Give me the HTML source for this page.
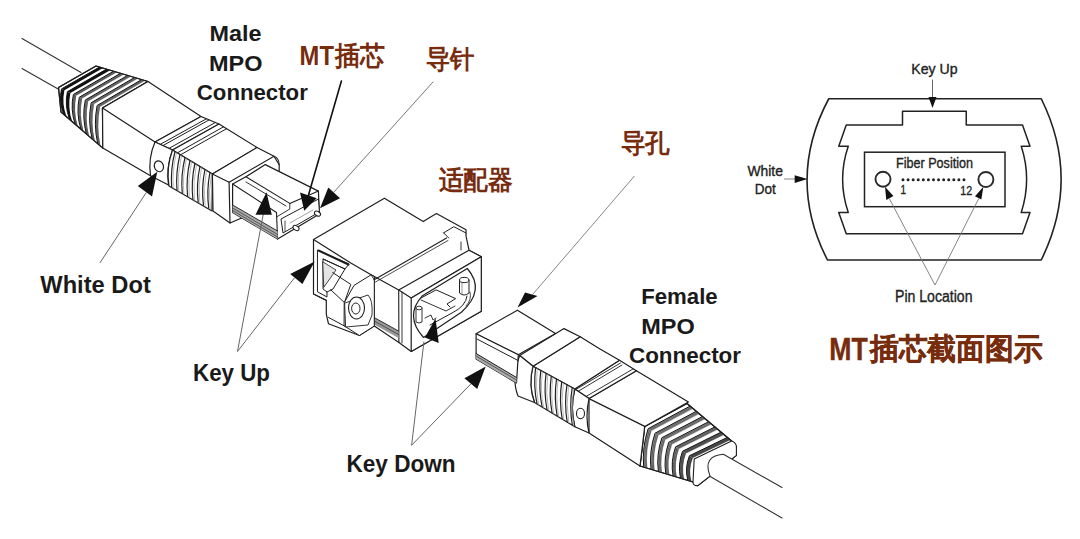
<!DOCTYPE html>
<html><head><meta charset="utf-8">
<style>
html,body{margin:0;padding:0;background:#fff;}
body{width:1080px;height:539px;overflow:hidden;position:relative;}
svg{position:absolute;left:0;top:0;}
.lb{font-family:"Liberation Sans",sans-serif;font-weight:bold;fill:#1a1a1a;}
.cn{font-family:"Liberation Sans",sans-serif;font-weight:bold;fill:#782c0e;}
.cnb{font-family:"Liberation Sans",sans-serif;font-weight:bold;fill:#782c0e;stroke:#782c0e;stroke-width:0.4;}
.sm{font-family:"Liberation Sans",sans-serif;fill:#222;stroke:#222;stroke-width:0.35;}
</style></head><body>
<svg width="1080" height="539" viewBox="0 0 1080 539">
<polyline points="22.0,38.4 81.0,72.5" fill="none" stroke="#333" stroke-width="1.1" stroke-linejoin="round" stroke-linecap="round"/>
<polyline points="22.0,68.6 59.0,89.5" fill="none" stroke="#333" stroke-width="1.1" stroke-linejoin="round" stroke-linecap="round"/>
<polygon points="96.0,66.0 148.0,81.5 102.5,108.0 102.8,148.1 61.0,112.0 58.5,87.5" fill="#fff" stroke="#1e1e1e" stroke-width="1.2" stroke-linejoin="round" />
<polygon points="61.5,88.9 99.5,67.0 103.0,68.1 64.4,90.3" fill="#111"/>
<path d="M61.5,88.9 L99.5,67.0" stroke="#111" stroke-width="1.0"/>
<path d="M61.5,88.9 Q58.6,101.7 63.8,114.4 L66.6,116.9 Q61.5,103.6 64.4,90.3 Z" fill="#111"/>
<path d="M61.5,88.9 Q58.6,101.7 63.8,114.4" fill="none" stroke="#111" stroke-width="1.0"/>
<polygon points="67.4,91.7 106.5,69.1 110.1,70.2 70.4,93.0" fill="#111"/>
<path d="M67.4,91.7 L106.5,69.1" stroke="#111" stroke-width="1.0"/>
<path d="M67.4,91.7 Q64.4,105.5 69.5,119.3 L72.3,121.8 Q67.3,107.4 70.4,93.0 Z" fill="#111"/>
<path d="M67.4,91.7 Q64.4,105.5 69.5,119.3" fill="none" stroke="#111" stroke-width="1.0"/>
<polygon points="73.4,94.4 113.6,71.2 117.1,72.3 76.3,95.8" fill="#888"/>
<path d="M74.3,94.9 L114.7,71.6" stroke="#333" stroke-width="0.6"/>
<path d="M75.3,95.3 L115.9,71.9" stroke="#333" stroke-width="0.6"/>
<path d="M73.4,94.4 L113.6,71.2" stroke="#111" stroke-width="1.0"/>
<path d="M73.4,94.4 Q70.2,109.3 75.1,124.2 L77.9,126.6 Q73.1,111.2 76.3,95.8 Z" fill="#888"/>
<path d="M74.6,95.0 Q71.4,110.1 76.3,125.2" fill="none" stroke="#333" stroke-width="0.6"/>
<path d="M75.6,95.5 Q72.4,110.7 77.2,126.0" fill="none" stroke="#333" stroke-width="0.6"/>
<path d="M73.4,94.4 Q70.2,109.3 75.1,124.2" fill="none" stroke="#111" stroke-width="1.0"/>
<polygon points="79.3,97.2 120.6,73.3 124.1,74.4 82.3,98.6" fill="#999"/>
<path d="M80.3,97.7 L121.8,73.7" stroke="#333" stroke-width="0.6"/>
<path d="M81.3,98.1 L122.9,74.0" stroke="#333" stroke-width="0.6"/>
<path d="M79.3,97.2 L120.6,73.3" stroke="#111" stroke-width="1.0"/>
<path d="M79.3,97.2 Q76.0,113.1 80.8,129.1 L83.6,131.5 Q78.9,115.0 82.3,98.6 Z" fill="#999"/>
<path d="M80.5,97.8 Q77.2,113.9 81.9,130.0" fill="none" stroke="#333" stroke-width="0.6"/>
<path d="M81.5,98.2 Q78.2,114.6 82.9,130.9" fill="none" stroke="#333" stroke-width="0.6"/>
<path d="M79.3,97.2 Q76.0,113.1 80.8,129.1" fill="none" stroke="#111" stroke-width="1.0"/>
<polygon points="85.3,100.0 127.6,75.4 131.1,76.5 88.2,101.4" fill="#999"/>
<path d="M86.2,100.4 L128.8,75.8" stroke="#333" stroke-width="0.6"/>
<path d="M87.2,100.9 L129.9,76.1" stroke="#333" stroke-width="0.6"/>
<path d="M85.3,100.0 L127.6,75.4" stroke="#111" stroke-width="1.0"/>
<path d="M85.3,100.0 Q81.8,117.0 86.4,134.0 L89.2,136.4 Q84.7,118.9 88.2,101.4 Z" fill="#999"/>
<path d="M86.4,100.5 Q83.0,117.7 87.5,134.9" fill="none" stroke="#333" stroke-width="0.6"/>
<path d="M87.5,101.0 Q84.0,118.4 88.5,135.8" fill="none" stroke="#333" stroke-width="0.6"/>
<path d="M85.3,100.0 Q81.8,117.0 86.4,134.0" fill="none" stroke="#111" stroke-width="1.0"/>
<polygon points="91.2,102.7 134.6,77.5 138.2,78.6 94.2,104.1" fill="#999"/>
<path d="M92.2,103.2 L135.8,77.9" stroke="#333" stroke-width="0.6"/>
<path d="M93.2,103.7 L137.0,78.2" stroke="#333" stroke-width="0.6"/>
<path d="M91.2,102.7 L134.6,77.5" stroke="#111" stroke-width="1.0"/>
<path d="M91.2,102.7 Q87.6,120.8 92.1,138.8 L94.9,141.3 Q90.5,122.7 94.2,104.1 Z" fill="#999"/>
<path d="M92.4,103.3 Q88.8,121.5 93.2,139.8" fill="none" stroke="#333" stroke-width="0.6"/>
<path d="M93.4,103.8 Q89.8,122.2 94.2,140.7" fill="none" stroke="#333" stroke-width="0.6"/>
<path d="M91.2,102.7 Q87.6,120.8 92.1,138.8" fill="none" stroke="#111" stroke-width="1.0"/>
<polygon points="97.1,105.5 141.7,79.6 145.2,80.7 100.1,106.9" fill="#999"/>
<path d="M98.1,106.0 L142.8,80.0" stroke="#333" stroke-width="0.6"/>
<path d="M99.1,106.4 L144.0,80.3" stroke="#333" stroke-width="0.6"/>
<path d="M97.1,105.5 L141.7,79.6" stroke="#111" stroke-width="1.0"/>
<path d="M97.1,105.5 Q93.4,124.6 97.7,143.7 L100.5,146.1 Q96.3,126.5 100.1,106.9 Z" fill="#999"/>
<path d="M98.3,106.1 Q94.6,125.4 98.8,144.7" fill="none" stroke="#333" stroke-width="0.6"/>
<path d="M99.4,106.5 Q95.6,126.0 99.8,145.5" fill="none" stroke="#333" stroke-width="0.6"/>
<path d="M97.1,105.5 Q93.4,124.6 97.7,143.7" fill="none" stroke="#111" stroke-width="1.0"/>
<polygon points="96.0,66.0 148.0,81.5 102.5,108.0 102.8,148.1 61.0,112.0 58.5,87.5" fill="none" stroke="#1e1e1e" stroke-width="1.2" stroke-linejoin="round" />
<polygon points="148.0,81.5 201.0,116.5 155.0,142.0 150.5,175.8 102.8,148.1 102.5,108.0" fill="#fff" stroke="#1e1e1e" stroke-width="1.2" stroke-linejoin="round" />
<polyline points="102.5,108.0 155.0,142.0" fill="none" stroke="#1e1e1e" stroke-width="1.2" stroke-linejoin="round" stroke-linecap="round"/>
<polygon points="155.0,142.0 201.0,116.5 219.0,124.0 172.5,150.0" fill="#fff" stroke="#1e1e1e" stroke-width="1.2" stroke-linejoin="round" />
<polyline points="160.2,144.4 206.4,118.8" fill="none" stroke="#1e1e1e" stroke-width="1.0" stroke-linejoin="round" stroke-linecap="round"/>
<polyline points="162.9,145.6 209.1,119.9" fill="none" stroke="#1e1e1e" stroke-width="1.0" stroke-linejoin="round" stroke-linecap="round"/>
<polyline points="169.0,148.4 215.4,122.5" fill="none" stroke="#1e1e1e" stroke-width="1.0" stroke-linejoin="round" stroke-linecap="round"/>
<path d="M155,142 Q148,158 150.5,175.8 L168.5,185 Q166,168 172.5,150 Z" fill="#fff" stroke="#1e1e1e" stroke-width="1.2" stroke-linejoin="round" stroke-linecap="round"/>
<ellipse cx="158.8" cy="166.3" rx="4.5" ry="5.5" fill="#fff" stroke="#1e1e1e" stroke-width="1.2" transform="rotate(-20 159 166)"/>
<polygon points="172.5,150.0 219.0,124.0 257.0,147.5 212.4,174.0" fill="#fff" stroke="#1e1e1e" stroke-width="1.2" stroke-linejoin="round" />
<polyline points="177.3,152.9 223.6,126.8" fill="none" stroke="#1e1e1e" stroke-width="1.0" stroke-linejoin="round" stroke-linecap="round"/>
<polyline points="180.5,154.8 226.6,128.7" fill="none" stroke="#1e1e1e" stroke-width="1.0" stroke-linejoin="round" stroke-linecap="round"/>
<path d="M172.5,150 Q166,168 169,186 L212,211 L212.4,174 Z" fill="#fff" stroke="#1e1e1e" stroke-width="1.2" stroke-linejoin="round" stroke-linecap="round"/>
<path d="M175.0,151.5 Q170.3,169.5 171.7,187.5" fill="none" stroke="#222" stroke-width="1.2"/>
<path d="M176.6,152.4 Q171.9,170.4 173.3,188.4" fill="none" stroke="#999" stroke-width="0.7"/>
<path d="M180.0,154.5 Q175.5,172.5 177.0,190.5" fill="none" stroke="#222" stroke-width="1.2"/>
<path d="M181.6,155.4 Q177.1,173.4 178.6,191.4" fill="none" stroke="#999" stroke-width="0.7"/>
<path d="M185.0,157.5 Q180.6,175.5 182.3,193.5" fill="none" stroke="#222" stroke-width="1.2"/>
<path d="M186.6,158.4 Q182.2,176.4 183.9,194.4" fill="none" stroke="#999" stroke-width="0.7"/>
<path d="M190.0,160.5 Q185.8,178.5 187.6,196.5" fill="none" stroke="#222" stroke-width="1.2"/>
<path d="M191.6,161.4 Q187.4,179.4 189.2,197.4" fill="none" stroke="#999" stroke-width="0.7"/>
<path d="M194.9,163.5 Q190.9,181.5 192.9,199.5" fill="none" stroke="#222" stroke-width="1.2"/>
<path d="M196.5,164.4 Q192.5,182.4 194.5,200.4" fill="none" stroke="#999" stroke-width="0.7"/>
<path d="M199.9,166.5 Q196.1,184.5 198.2,202.5" fill="none" stroke="#222" stroke-width="1.2"/>
<path d="M201.5,167.4 Q197.7,185.4 199.8,203.4" fill="none" stroke="#999" stroke-width="0.7"/>
<path d="M204.9,169.5 Q201.2,187.5 203.5,205.5" fill="none" stroke="#222" stroke-width="1.2"/>
<path d="M206.5,170.4 Q202.8,188.4 205.1,206.4" fill="none" stroke="#999" stroke-width="0.7"/>
<path d="M209.9,172.5 Q206.4,190.5 208.8,208.5" fill="none" stroke="#222" stroke-width="1.2"/>
<path d="M211.5,173.4 Q208.0,191.4 210.4,209.4" fill="none" stroke="#999" stroke-width="0.7"/>
<polygon points="212.4,174.0 257.0,147.5 274.0,156.3 279.2,164.7 279.0,202.0 230.0,223.0 213.0,211.0" fill="#fff" stroke="#1e1e1e" stroke-width="1.2" stroke-linejoin="round" />
<polyline points="212.4,174.0 229.1,182.3 230.0,223.0" fill="none" stroke="#1e1e1e" stroke-width="1.2" stroke-linejoin="round" stroke-linecap="round"/>
<path d="M229.1,182.3 L274,156.3 Q279,158 279.2,164.7" fill="none" stroke="#1e1e1e" stroke-width="1.1" stroke-linejoin="round" stroke-linecap="round"/>
<polygon points="232.6,184.0 245.9,176.8 265.3,164.6 318.4,191.1 319.4,214.0 277.6,239.0 232.6,212.6" fill="#fff" stroke="#1e1e1e" stroke-width="1.2" stroke-linejoin="round" />
<polyline points="245.9,176.8 289.8,203.4 318.4,191.1" fill="none" stroke="#1e1e1e" stroke-width="1.1" stroke-linejoin="round" stroke-linecap="round"/>
<polyline points="232.6,184.0 276.5,212.5 277.6,239.0" fill="none" stroke="#1e1e1e" stroke-width="1.1" stroke-linejoin="round" stroke-linecap="round"/>
<polyline points="246.0,182.0 286.0,206.0" fill="none" stroke="#1e1e1e" stroke-width="0.9" stroke-linejoin="round" stroke-linecap="round"/>
<polyline points="289.8,203.4 289.8,209.0 276.5,217.0" fill="none" stroke="#1e1e1e" stroke-width="0.9" stroke-linejoin="round" stroke-linecap="round"/>
<polygon points="232.6,205 277.6,231 277.6,239 232.6,212.6" fill="#aaa"/>
<polyline points="232.6,205.0 277.6,231.0" fill="none" stroke="#1e1e1e" stroke-width="0.9" stroke-linejoin="round" stroke-linecap="round"/>
<polyline points="232.6,208.0 277.6,234.5" fill="none" stroke="#1e1e1e" stroke-width="0.6" stroke-linejoin="round" stroke-linecap="round"/>
<polyline points="232.6,210.5 277.6,237.0" fill="none" stroke="#1e1e1e" stroke-width="0.6" stroke-linejoin="round" stroke-linecap="round"/>
<polygon points="281.0,219.0 318.5,199.0 319.4,212.0 283.0,233.0" fill="#fff" stroke="#1e1e1e" stroke-width="1.0" stroke-linejoin="round" />
<polyline points="285.0,221.0 285.0,231.0" fill="none" stroke="#1e1e1e" stroke-width="0.8" stroke-linejoin="round" stroke-linecap="round"/>
<polyline points="290.0,223.0 313.0,210.0" fill="none" stroke="#666" stroke-width="0.6" stroke-linejoin="round" stroke-linecap="round"/>
<ellipse cx="296" cy="228" rx="3.3" ry="2.2" fill="#fff" stroke="#1e1e1e" stroke-width="1" transform="rotate(30 296 228)"/>
<ellipse cx="317.5" cy="213.6" rx="3.3" ry="2.2" fill="#fff" stroke="#1e1e1e" stroke-width="1" transform="rotate(30 317.5 213.6)"/>
<polygon points="313.5,239.6 384.4,198.2 423.2,221.6 436.4,213.5 466.0,229.8 466.0,236.0 469.0,250.2 481.3,256.7 481.3,311.3 411.2,351.4 398.9,342.4 374.3,326.0 359.4,335.5 328.5,323.8 326.3,314.2 326.3,300.4 313.5,294.0" fill="#fff" stroke="#1e1e1e" stroke-width="1.2" stroke-linejoin="round" />
<polyline points="313.5,239.6 350.8,263.0 371.1,274.8 374.3,276.5 374.3,326.0" fill="none" stroke="#1e1e1e" stroke-width="1.2" stroke-linejoin="round" stroke-linecap="round"/>
<path d="M317.8,250.3 L349,264 L345,269 L323,259 L323,289 L327,292 L327,297 L317.8,292 Z" fill="#fff" stroke="#1e1e1e" stroke-width="1.0" stroke-linejoin="round" stroke-linecap="round"/>
<polyline points="318.5,250.5 348.5,264.5" fill="none" stroke="#1e1e1e" stroke-width="2.0" stroke-linejoin="round" stroke-linecap="round"/>
<path d="M323,259 L345,269 L333,289 L327,292" fill="none" stroke="#1e1e1e" stroke-width="1.0" stroke-linejoin="round" stroke-linecap="round"/>
<path d="M323,262 L336,270 L324,287 Z" fill="#e4e4e4" stroke="#1e1e1e" stroke-width="0.8" stroke-linejoin="round" stroke-linecap="round"/>
<path d="M332.7,272.6 L350.8,284.4 L344.4,302.5 L330.6,289.7" fill="none" stroke="#1e1e1e" stroke-width="1.0" stroke-linejoin="round" stroke-linecap="round"/>
<path d="M344.4,302.5 L354,285.4 L371.1,274.8 L374.3,276.5 L374.3,326 L359.4,335.5 L344.4,326 Z" fill="#fff" stroke="#1e1e1e" stroke-width="1.0" stroke-linejoin="round" stroke-linecap="round"/>
<path d="M345,303 L368,295 Q373,300 372,315 L368,325 L346,327 Z" fill="#fff" stroke="#1e1e1e" stroke-width="0.9" stroke-linejoin="round" stroke-linecap="round"/>
<ellipse cx="356.5" cy="308" rx="8" ry="11" fill="#fff" stroke="#1e1e1e" stroke-width="1.1"/>
<ellipse cx="355.8" cy="308.5" rx="4.2" ry="5.5" fill="#fff" stroke="#1e1e1e" stroke-width="1"/>
<polyline points="313.5,294.0 326.3,300.4" fill="none" stroke="#1e1e1e" stroke-width="1.0" stroke-linejoin="round" stroke-linecap="round"/>
<polyline points="328.5,317.4 344.4,326.0" fill="none" stroke="#1e1e1e" stroke-width="1.0" stroke-linejoin="round" stroke-linecap="round"/>
<polyline points="374.3,276.5 398.7,290.0 398.9,342.4" fill="none" stroke="#1e1e1e" stroke-width="1.1" stroke-linejoin="round" stroke-linecap="round"/>
<polygon points="375,318 398.5,331 398.5,338 375,325" fill="#999"/>
<polyline points="375.0,318.0 398.5,331.0" fill="none" stroke="#1e1e1e" stroke-width="0.9" stroke-linejoin="round" stroke-linecap="round"/>
<polyline points="375.0,321.5 398.5,334.5" fill="none" stroke="#1e1e1e" stroke-width="0.6" stroke-linejoin="round" stroke-linecap="round"/>
<polyline points="374.2,279.8 446.6,238.0" fill="none" stroke="#1e1e1e" stroke-width="1.1" stroke-linejoin="round" stroke-linecap="round"/>
<polyline points="375.5,282.0 448.0,240.5" fill="none" stroke="#1e1e1e" stroke-width="0.8" stroke-linejoin="round" stroke-linecap="round"/>
<polyline points="371.1,274.8 374.2,279.8" fill="none" stroke="#1e1e1e" stroke-width="0.9" stroke-linejoin="round" stroke-linecap="round"/>
<polyline points="443.6,232.9 453.8,226.7 466.0,233.0" fill="none" stroke="#1e1e1e" stroke-width="1.0" stroke-linejoin="round" stroke-linecap="round"/>
<polyline points="443.6,232.9 448.7,238.0" fill="none" stroke="#1e1e1e" stroke-width="1.0" stroke-linejoin="round" stroke-linecap="round"/>
<polyline points="461.0,242.0 461.0,250.0" fill="none" stroke="#1e1e1e" stroke-width="0.9" stroke-linejoin="round" stroke-linecap="round"/>
<polygon points="398.7,290.0 469.0,250.2 481.3,256.7 411.2,297.9" fill="#fff" stroke="#1e1e1e" stroke-width="1.2" stroke-linejoin="round" />
<polygon points="411.2,297.9 481.3,256.7 481.3,311.3 411.2,351.4" fill="#fff" stroke="#1e1e1e" stroke-width="1.2" stroke-linejoin="round" />
<polyline points="402.0,292.0 402.0,343.0" fill="none" stroke="#1e1e1e" stroke-width="0.9" stroke-linejoin="round" stroke-linecap="round"/>
<path d="M422.5,295.7 L467.3,268.5 Q486,290 461.4,312.3 L423.5,337.5 Q404,316 422.5,295.7 Z" fill="#fff" stroke="#1e1e1e" stroke-width="1.2" stroke-linejoin="round" stroke-linecap="round"/>
<path d="M421,298 L436.1,289.9 L455.6,298.6 L447,304 L450,307" fill="none" stroke="#1e1e1e" stroke-width="1.0" stroke-linejoin="round" stroke-linecap="round"/>
<path d="M421,300 L446,311 L455,306" fill="none" stroke="#1e1e1e" stroke-width="0.9" stroke-linejoin="round" stroke-linecap="round"/>
<path d="M467,296 Q466,306 452,313 L430,325" fill="none" stroke="#1e1e1e" stroke-width="1.0" stroke-linejoin="round" stroke-linecap="round"/>
<path d="M470,292 Q472,300 466,306" fill="none" stroke="#1e1e1e" stroke-width="0.8" stroke-linejoin="round" stroke-linecap="round"/>
<path d="M459.5,280 L459.5,293 Q464,297 469,293 L469,280" fill="#fff" stroke="#1e1e1e" stroke-width="1.0" stroke-linejoin="round" stroke-linecap="round"/>
<ellipse cx="464.2" cy="280" rx="4.7" ry="2.6" fill="#fff" stroke="#1e1e1e" stroke-width="1"/>
<polyline points="462.0,283.0 462.0,294.0" fill="none" stroke="#555" stroke-width="0.6" stroke-linejoin="round" stroke-linecap="round"/>
<path d="M416,308 L416,322 Q419,324 422,322 L422,308" fill="#fff" stroke="#1e1e1e" stroke-width="0.9" stroke-linejoin="round" stroke-linecap="round"/>
<ellipse cx="419" cy="308" rx="3" ry="1.8" fill="#fff" stroke="#1e1e1e" stroke-width="0.9"/>
<path d="M425,318 L431,315 L433,320 L436,318" fill="none" stroke="#1e1e1e" stroke-width="0.9" stroke-linejoin="round" stroke-linecap="round"/>
<polygon points="687.0,403.5 731.6,441.0 736.4,448.1 736.4,455.4 697.8,485.6 693.0,482.0 640.0,466.0 644.7,426.4" fill="#fff" stroke="#1e1e1e" stroke-width="1.2" stroke-linejoin="round" />
<polygon points="648.1,428.7 690.1,406.1 693.2,408.7 651.6,430.9" fill="#999"/>
<path d="M649.3,429.4 L691.1,407.0" stroke="#333" stroke-width="0.6"/>
<path d="M650.4,430.2 L692.1,407.8" stroke="#333" stroke-width="0.6"/>
<path d="M648.1,428.7 L690.1,406.1" stroke="#111" stroke-width="1.0"/>
<path d="M648.1,428.7 Q641.9,447.9 643.7,467.1 L647.4,468.2 Q645.5,449.6 651.6,430.9 Z" fill="#999"/>
<path d="M649.5,429.6 Q643.3,448.6 645.2,467.6" fill="none" stroke="#333" stroke-width="0.6"/>
<path d="M650.7,430.4 Q644.6,449.2 646.4,467.9" fill="none" stroke="#333" stroke-width="0.6"/>
<path d="M648.1,428.7 Q641.9,447.9 643.7,467.1" fill="none" stroke="#111" stroke-width="1.0"/>
<polygon points="655.0,433.2 696.3,411.3 699.4,413.9 658.5,435.5" fill="#999"/>
<path d="M656.1,433.9 L697.3,412.2" stroke="#333" stroke-width="0.6"/>
<path d="M657.3,434.7 L698.3,413.0" stroke="#333" stroke-width="0.6"/>
<path d="M655.0,433.2 L696.3,411.3" stroke="#111" stroke-width="1.0"/>
<path d="M655.0,433.2 Q649.0,451.3 651.0,469.3 L654.7,470.4 Q652.6,452.9 658.5,435.5 Z" fill="#999"/>
<path d="M656.4,434.1 Q650.5,451.9 652.5,469.8" fill="none" stroke="#333" stroke-width="0.6"/>
<path d="M657.6,434.9 Q651.7,452.5 653.8,470.2" fill="none" stroke="#333" stroke-width="0.6"/>
<path d="M655.0,433.2 Q649.0,451.3 651.0,469.3" fill="none" stroke="#111" stroke-width="1.0"/>
<polygon points="661.9,437.7 702.5,416.5 705.6,419.1 665.3,440.0" fill="#999"/>
<path d="M663.0,438.5 L703.5,417.4" stroke="#333" stroke-width="0.6"/>
<path d="M664.2,439.2 L704.5,418.2" stroke="#333" stroke-width="0.6"/>
<path d="M661.9,437.7 L702.5,416.5" stroke="#111" stroke-width="1.0"/>
<path d="M661.9,437.7 Q656.1,454.6 658.4,471.6 L662.1,472.7 Q659.7,456.3 665.3,440.0 Z" fill="#999"/>
<path d="M663.3,438.6 Q657.6,455.3 659.9,472.0" fill="none" stroke="#333" stroke-width="0.6"/>
<path d="M664.5,439.4 Q658.8,455.9 661.2,472.4" fill="none" stroke="#333" stroke-width="0.6"/>
<path d="M661.9,437.7 Q656.1,454.6 658.4,471.6" fill="none" stroke="#111" stroke-width="1.0"/>
<polygon points="668.8,442.2 708.7,421.7 711.8,424.3 672.2,444.5" fill="#999"/>
<path d="M669.9,443.0 L709.7,422.6" stroke="#333" stroke-width="0.6"/>
<path d="M671.0,443.7 L710.7,423.4" stroke="#333" stroke-width="0.6"/>
<path d="M668.8,442.2 L708.7,421.7" stroke="#111" stroke-width="1.0"/>
<path d="M668.8,442.2 Q663.3,458.0 665.8,473.8 L669.4,474.9 Q666.8,459.7 672.2,444.5 Z" fill="#999"/>
<path d="M670.1,443.2 Q664.7,458.7 667.2,474.2" fill="none" stroke="#333" stroke-width="0.6"/>
<path d="M671.3,443.9 Q665.9,459.3 668.5,474.6" fill="none" stroke="#333" stroke-width="0.6"/>
<path d="M668.8,442.2 Q663.3,458.0 665.8,473.8" fill="none" stroke="#111" stroke-width="1.0"/>
<polygon points="675.6,446.8 714.9,426.9 718.0,429.5 679.1,449.0" fill="#888"/>
<path d="M676.8,447.5 L715.9,427.8" stroke="#333" stroke-width="0.6"/>
<path d="M677.9,448.3 L716.9,428.7" stroke="#333" stroke-width="0.6"/>
<path d="M675.6,446.8 L714.9,426.9" stroke="#111" stroke-width="1.0"/>
<path d="M675.6,446.8 Q670.4,461.4 673.1,476.0 L676.8,477.1 Q673.9,463.1 679.1,449.0 Z" fill="#888"/>
<path d="M677.0,447.7 Q671.8,462.1 674.6,476.4" fill="none" stroke="#333" stroke-width="0.6"/>
<path d="M678.2,448.5 Q673.1,462.7 675.9,476.8" fill="none" stroke="#333" stroke-width="0.6"/>
<path d="M675.6,446.8 Q670.4,461.4 673.1,476.0" fill="none" stroke="#111" stroke-width="1.0"/>
<polygon points="682.5,451.3 721.1,432.1 724.2,434.8 686.0,453.6" fill="#666"/>
<path d="M683.6,452.0 L722.1,433.0" stroke="#333" stroke-width="0.6"/>
<path d="M684.8,452.8 L723.1,433.9" stroke="#333" stroke-width="0.6"/>
<path d="M682.5,451.3 L721.1,432.1" stroke="#111" stroke-width="1.0"/>
<path d="M682.5,451.3 Q677.5,464.8 680.5,478.2 L684.2,479.3 Q681.1,466.4 686.0,453.6 Z" fill="#666"/>
<path d="M683.9,452.2 Q678.9,465.4 682.0,478.7" fill="none" stroke="#333" stroke-width="0.6"/>
<path d="M685.1,453.0 Q680.2,466.0 683.2,479.1" fill="none" stroke="#333" stroke-width="0.6"/>
<path d="M682.5,451.3 Q677.5,464.8 680.5,478.2" fill="none" stroke="#111" stroke-width="1.0"/>
<polygon points="689.4,455.8 727.3,437.4 730.4,440.0 692.8,458.1" fill="#555"/>
<path d="M690.5,456.6 L728.3,438.2" stroke="#333" stroke-width="0.6"/>
<path d="M691.7,457.3 L729.3,439.1" stroke="#333" stroke-width="0.6"/>
<path d="M689.4,455.8 L727.3,437.4" stroke="#111" stroke-width="1.0"/>
<path d="M689.4,455.8 Q684.6,468.1 687.8,480.4 L691.5,481.6 Q688.2,469.8 692.8,458.1 Z" fill="#555"/>
<path d="M690.8,456.7 Q686.0,468.8 689.3,480.9" fill="none" stroke="#333" stroke-width="0.6"/>
<path d="M692.0,457.5 Q687.3,469.4 690.6,481.3" fill="none" stroke="#333" stroke-width="0.6"/>
<path d="M689.4,455.8 Q684.6,468.1 687.8,480.4" fill="none" stroke="#111" stroke-width="1.0"/>
<polygon points="687.0,403.5 731.6,441.0 736.4,448.1 736.4,455.4 697.8,485.6 693.0,482.0 640.0,466.0 644.7,426.4" fill="none" stroke="#1e1e1e" stroke-width="1.2" stroke-linejoin="round" />
<path d="M694.2,459 L731.6,441 Q737,443 736.4,448.1 L736.4,455.4 L697.8,485.6 Q693,486 693,482 L694.2,459 Z" fill="#fff" stroke="#1e1e1e" stroke-width="1.1" stroke-linejoin="round" stroke-linecap="round"/>
<path d="M782,487.6 L723.4,454.3 Q702,456 710.2,476.5 L782,518" fill="#fff" stroke="#333" stroke-width="1.1" stroke-linejoin="round" stroke-linecap="round"/>
<polygon points="589.0,398.6 636.4,370.8 688.4,402.0 644.7,426.4 640.0,466.0 589.0,433.0" fill="#fff" stroke="#1e1e1e" stroke-width="1.2" stroke-linejoin="round" />
<polyline points="589.0,398.6 644.7,426.4" fill="none" stroke="#1e1e1e" stroke-width="1.2" stroke-linejoin="round" stroke-linecap="round"/>
<polygon points="574.8,389.0 619.5,360.3 636.4,370.8 589.0,398.6" fill="#fff" stroke="#1e1e1e" stroke-width="1.2" stroke-linejoin="round" />
<polyline points="575.0,390.0 620.5,363.0" fill="none" stroke="#1e1e1e" stroke-width="0.9" stroke-linejoin="round" stroke-linecap="round"/>
<polyline points="577.0,392.0 622.0,365.0" fill="none" stroke="#1e1e1e" stroke-width="0.9" stroke-linejoin="round" stroke-linecap="round"/>
<polyline points="586.0,396.5 633.0,369.0" fill="none" stroke="#1e1e1e" stroke-width="0.9" stroke-linejoin="round" stroke-linecap="round"/>
<path d="M574.8,389 L589,398.6 Q585,416 589,433 L574.8,426.7 Q570,408 574.8,389 Z" fill="#fff" stroke="#1e1e1e" stroke-width="1.2" stroke-linejoin="round" stroke-linecap="round"/>
<ellipse cx="580.5" cy="413.5" rx="4" ry="5.2" fill="#fff" stroke="#1e1e1e" stroke-width="1.1"/>
<polygon points="533.0,366.2 580.2,336.7 600.0,349.0 619.5,360.3 574.8,389.0" fill="#fff" stroke="#1e1e1e" stroke-width="1.2" stroke-linejoin="round" />
<path d="M533,366.2 Q528,385 534.5,402.5 L574.8,426.7 Q570,408 574.8,389 Z" fill="#fff" stroke="#1e1e1e" stroke-width="1.2" stroke-linejoin="round" stroke-linecap="round"/>
<path d="M535.6,367.6 Q533.3,385.8 537.0,404.0" fill="none" stroke="#222" stroke-width="1.2"/>
<path d="M537.2,368.5 Q534.9,386.7 538.6,404.9" fill="none" stroke="#999" stroke-width="0.7"/>
<path d="M540.8,370.5 Q538.4,388.8 542.1,407.0" fill="none" stroke="#222" stroke-width="1.2"/>
<path d="M542.4,371.4 Q540.0,389.7 543.7,407.9" fill="none" stroke="#999" stroke-width="0.7"/>
<path d="M546.1,373.3 Q543.6,391.7 547.1,410.1" fill="none" stroke="#222" stroke-width="1.2"/>
<path d="M547.7,374.2 Q545.2,392.6 548.7,411.0" fill="none" stroke="#999" stroke-width="0.7"/>
<path d="M551.3,376.2 Q548.7,394.6 552.1,413.1" fill="none" stroke="#222" stroke-width="1.2"/>
<path d="M552.9,377.1 Q550.3,395.5 553.7,414.0" fill="none" stroke="#999" stroke-width="0.7"/>
<path d="M556.5,379.0 Q553.8,397.6 557.2,416.1" fill="none" stroke="#222" stroke-width="1.2"/>
<path d="M558.1,379.9 Q555.4,398.5 558.8,417.0" fill="none" stroke="#999" stroke-width="0.7"/>
<path d="M561.7,381.9 Q559.0,400.5 562.2,419.1" fill="none" stroke="#222" stroke-width="1.2"/>
<path d="M563.3,382.8 Q560.6,401.4 563.8,420.0" fill="none" stroke="#999" stroke-width="0.7"/>
<path d="M567.0,384.7 Q564.1,403.4 567.2,422.2" fill="none" stroke="#222" stroke-width="1.2"/>
<path d="M568.6,385.6 Q565.7,404.3 568.8,423.1" fill="none" stroke="#999" stroke-width="0.7"/>
<path d="M572.2,387.6 Q569.2,406.4 572.3,425.2" fill="none" stroke="#222" stroke-width="1.2"/>
<path d="M573.8,388.5 Q570.8,407.3 573.9,426.1" fill="none" stroke="#999" stroke-width="0.7"/>
<polygon points="519.7,355.5 564.0,328.6 580.2,336.7 533.0,366.2" fill="#fff" stroke="#1e1e1e" stroke-width="1.2" stroke-linejoin="round" />
<path d="M519.7,355.5 Q511,378 518,396 L534.5,402.5 Q528,385 533,366.2 Z" fill="#fff" stroke="#1e1e1e" stroke-width="1.2" stroke-linejoin="round" stroke-linecap="round"/>
<polygon points="476.1,333.8 517.4,310.2 555.5,333.4 518.3,354.7" fill="#fff" stroke="#1e1e1e" stroke-width="1.2" stroke-linejoin="round" />
<polygon points="476.1,333.8 518.3,354.7 516.5,383.0 476.1,359.0" fill="#fff" stroke="#1e1e1e" stroke-width="1.2" stroke-linejoin="round" />
<polyline points="477.0,339.0 518.0,360.5" fill="none" stroke="#1e1e1e" stroke-width="1.0" stroke-linejoin="round" stroke-linecap="round"/>
<polygon points="476.1,353.5 516.5,377.5 516.5,383 476.1,359" fill="#aaa"/>
<polyline points="476.1,353.5 516.5,377.5" fill="none" stroke="#1e1e1e" stroke-width="1.0" stroke-linejoin="round" stroke-linecap="round"/>
<polyline points="476.1,356.0 516.5,380.0" fill="none" stroke="#1e1e1e" stroke-width="0.6" stroke-linejoin="round" stroke-linecap="round"/>
<polyline points="100.1,262.6 146.0,193.0" fill="none" stroke="#666" stroke-width="1.0" stroke-linejoin="round" stroke-linecap="round"/>
<polygon points="157.3,171.7 137.8,186.0 152.0,196.4" fill="#111"/>
<polyline points="263.7,212.0 237.5,351.5 294.3,278.0" fill="none" stroke="#666" stroke-width="1.0" stroke-linejoin="round" stroke-linecap="round"/>
<polygon points="266.5,192.2 255.5,214.7 271.8,214.7" fill="#111"/>
<polygon points="314.7,261.6 290.2,273.9 302.4,284.0" fill="#111"/>
<polyline points="341.4,81.0 308.5,195.0" fill="none" stroke="#111" stroke-width="1.6" stroke-linejoin="round" stroke-linecap="round"/>
<polygon points="304.2,210.8 300.0,192.5 316.7,198.3" fill="#111"/>
<polyline points="433.0,82.0 334.0,192.0" fill="none" stroke="#777" stroke-width="1.0" stroke-linejoin="round" stroke-linecap="round"/>
<polygon points="320.0,208.3 328.3,187.5 340.0,198.3" fill="#111"/>
<polyline points="634.3,176.2 533.0,294.0" fill="none" stroke="#888" stroke-width="1.0" stroke-linejoin="round" stroke-linecap="round"/>
<polygon points="517.5,307.5 525.0,292.5 537.5,296.0" fill="#111"/>
<polyline points="423.9,342.0 411.6,445.3 470.8,384.0" fill="none" stroke="#666" stroke-width="1.0" stroke-linejoin="round" stroke-linecap="round"/>
<polygon points="435.5,318.4 424.9,337.6 438.7,343.0" fill="#111"/>
<polygon points="485.7,366.4 464.4,378.2 477.2,388.9" fill="#111"/>
<path d="M828.75,98.75 L1041.25,98.75 Q1081,179 1041.25,260 L827.5,260 Q786,179 828.75,98.75 Z" fill="none" stroke="#222" stroke-width="1.6" stroke-linejoin="round" stroke-linecap="round"/>
<path d="M846.25,125 L902.5,125 L902.5,111.25 L966.25,111.25 L966.25,125 L1022.5,125 L1030,146.25 L1021.25,146.25 Q1032,179 1021.25,212.5 L1030,212.5 L1022.5,233.75 L846.25,233.75 L838.75,212.5 L848.25,212.5 Q837,179 848.25,146.25 L838.75,146.25 Z" fill="none" stroke="#222" stroke-width="1.5" stroke-linejoin="round" stroke-linecap="round"/>
<rect x="864.5" y="152.2" width="140.5" height="54.5" fill="none" stroke="#222" stroke-width="1.5"/>
<circle cx="883" cy="179.2" r="7.5" fill="#fff" stroke="#2a2a2a" stroke-width="1.9"/>
<circle cx="985.9" cy="179.5" r="7.5" fill="#fff" stroke="#2a2a2a" stroke-width="1.9"/>
<polyline points="903.0,179.7 964.0,179.7" fill="none" stroke="#222" stroke-width="3.0" stroke-linejoin="round"  stroke-dasharray="0 5.08" stroke-linecap="round"/>
<polygon points="885,186.7 886.3,200.1 893.4,196" fill="#111"/>
<polygon points="983.4,186.7 975,196.3 981.3,199.6" fill="#111"/>
<polyline points="889.5,199.0 935.0,285.0 978.5,199.0" fill="none" stroke="#777" stroke-width="0.9" stroke-linejoin="round" stroke-linecap="round"/>
<polyline points="932.5,80.0 932.5,99.0" fill="none" stroke="#555" stroke-width="0.9" stroke-linejoin="round" stroke-linecap="round"/>
<polygon points="928.5,97 936.5,97 932.5,108" fill="#111"/>
<polyline points="784.5,179.0 796.0,179.0" fill="none" stroke="#777" stroke-width="0.9" stroke-linejoin="round" stroke-linecap="round"/>
<polygon points="794.7,175.3 794.7,183 807.5,179" fill="#111"/>

<text class="lb" x="209.5" y="41.3" font-size="22" textLength="52" lengthAdjust="spacingAndGlyphs">Male</text>
<text class="lb" x="209" y="71.2" font-size="22" textLength="53.5" lengthAdjust="spacingAndGlyphs">MPO</text>
<text class="lb" x="196.8" y="100.4" font-size="22" textLength="111" lengthAdjust="spacingAndGlyphs">Connector</text>
<text class="cn" x="299.6" y="65.3" font-size="27.5" textLength="34.3" lengthAdjust="spacingAndGlyphs">MT</text>
<text class="cn" x="334.8" y="64.5" font-size="27" textLength="50" lengthAdjust="spacingAndGlyphs">插芯</text>
<text class="cn" x="425.5" y="68" font-size="26" textLength="48.5" lengthAdjust="spacingAndGlyphs">导针</text>
<text class="cn" x="438.7" y="189" font-size="26" textLength="74.3" lengthAdjust="spacingAndGlyphs">适配器</text>
<text class="cn" x="620.5" y="152" font-size="26" textLength="49.4" lengthAdjust="spacingAndGlyphs">导孔</text>
<text class="lb" x="40.3" y="293" font-size="23.2" textLength="110.5" lengthAdjust="spacingAndGlyphs">White Dot</text>
<text class="lb" x="193" y="381" font-size="24" textLength="77" lengthAdjust="spacingAndGlyphs">Key Up</text>
<text class="lb" x="346.5" y="471.6" font-size="23" textLength="109" lengthAdjust="spacingAndGlyphs">Key Down</text>
<text class="lb" x="641.2" y="304.2" font-size="22.5" textLength="76.5" lengthAdjust="spacingAndGlyphs">Female</text>
<text class="lb" x="641.2" y="334" font-size="22.5" textLength="53.5" lengthAdjust="spacingAndGlyphs">MPO</text>
<text class="lb" x="629" y="363" font-size="22.5" textLength="112" lengthAdjust="spacingAndGlyphs">Connector</text>
<text class="sm" x="911.25" y="73.75" font-size="14" textLength="46.25" lengthAdjust="spacingAndGlyphs">Key Up</text>
<text class="sm" x="747.4" y="175.5" font-size="14" textLength="35.5" lengthAdjust="spacingAndGlyphs">White</text>
<text class="sm" x="754.8" y="193.5" font-size="14" textLength="21" lengthAdjust="spacingAndGlyphs">Dot</text>
<text class="sm" x="896" y="168.1" font-size="14.2" textLength="77" lengthAdjust="spacingAndGlyphs">Fiber Position</text>
<text class="sm" x="900.5" y="194.3" font-size="13" textLength="5.5" lengthAdjust="spacingAndGlyphs">1</text>
<text class="sm" x="960.3" y="194.8" font-size="13.5" textLength="11.8" lengthAdjust="spacingAndGlyphs">12</text>
<text class="sm" x="895" y="301.9" font-size="15.8" textLength="77.5" lengthAdjust="spacingAndGlyphs">Pin Location</text>
<text class="cnb" x="829.3" y="360" font-size="32" textLength="38.5" lengthAdjust="spacingAndGlyphs">MT</text>
<text class="cnb" x="870" y="358.6" font-size="30" textLength="172.2" lengthAdjust="spacingAndGlyphs">插芯截面图示</text>

</svg>
</body></html>
